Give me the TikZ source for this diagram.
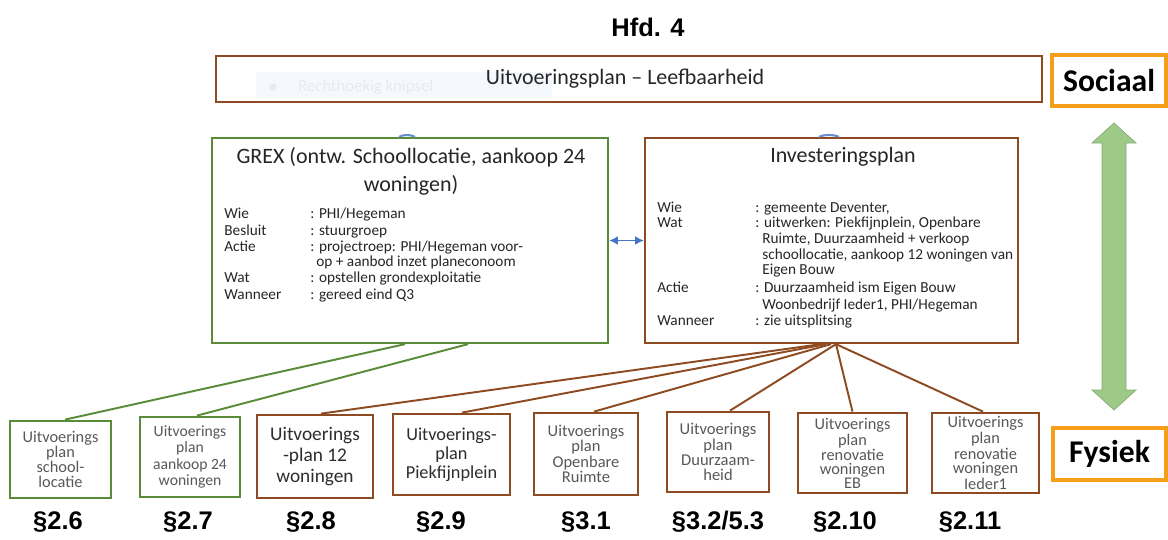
\documentclass[tikz,border=0pt]{standalone}
\usepackage{fontspec}
\newfontfamily\calfont{Carlito}
\newfontfamily\arialfont{Liberation Sans}
\usetikzlibrary{arrows.meta,calc}
\definecolor{grn}{RGB}{88,140,56}
\definecolor{brn}{RGB}{142,74,32}
\definecolor{org}{RGB}{245,158,28}
\definecolor{blu}{RGB}{68,114,196}
\definecolor{arrowgreen}{RGB}{158,202,136}
\definecolor{txtgray}{RGB}{88,88,88}
\definecolor{txtdark}{RGB}{45,45,45}
\definecolor{ghostbg}{RGB}{245,249,254}
\definecolor{ghosttx}{RGB}{230,235,241}
\begin{document}
\begin{tikzpicture}[x=0.02cm,y=-0.02cm,
  sec/.style={inner sep=0pt, font=\arialfont\bfseries\fontsize{14.5}{17}\selectfont},
  bigbox/.style={draw, line width=1.3pt, inner sep=0pt},
  smallbox/.style={draw, line width=1.6pt, inner sep=0pt, align=center, text=txtgray},
  tag/.style={draw=org, line width=1.8pt, inner sep=0pt, fill=white, font=\calfont\bfseries\fontsize{18}{20}\selectfont},
  tbl/.style={anchor=base west, inner sep=0pt, font=\calfont\fontsize{8.7}{9}\selectfont, text=black!85},
  ttl/.style={inner sep=0pt, align=center, font=\calfont\fontsize{12.5}{15.9}\selectfont, text=black!85},
  gline/.style={draw=grn, line width=1.1pt},
  bline/.style={draw=brn, line width=1.1pt}]
\useasboundingbox (0,0) rectangle (1168,539);
\fill[white] (0,0) rectangle (1168,539);

% heading
\node[sec] (hfd) at (648,27) {Hfd. 4};

% top box with faint ghost label
\fill[ghostbg] (256,72) rectangle (552,98);
\fill[ghosttx] (273,87) circle (3.5);
\node[anchor=west, inner sep=0pt, text=ghosttx, font=\calfont\fontsize{9.5}{11}\selectfont] (ghost) at (298,87) {Rechthoekig knipsel};
\node[draw=brn, line width=1.5pt, minimum width=16.52cm, minimum height=0.92cm, inner sep=0pt] (top) at (629,79) {};
\node[inner sep=0pt, font=\calfont\fontsize{12.5}{15}\selectfont, text=black!85] (toptxt) at (625,79) {Uitvoeringsplan – Leefbaarheid};

% side tags and arrow
\node[tag, minimum width=2.28cm, minimum height=1.02cm] (soc) at (1109,80.5) {Sociaal};
\node[tag, minimum width=2.26cm, minimum height=1.04cm] (fys) at (1109.5,454) {Fysiek};
\filldraw[fill=arrowgreen, draw=arrowgreen!85!black, line width=0.4pt]
  (1114,123) -- (1136,143) -- (1126,143) -- (1126,390) -- (1136,390) -- (1114,410)
  -- (1092,390) -- (1102,390) -- (1102,143) -- (1092,143) -- cycle;

% main boxes
\node[bigbox, draw=grn, minimum width=7.92cm, minimum height=4.1cm] (grex) at (410,240.5) {};
\node[bigbox, draw=brn, minimum width=7.46cm, minimum height=4.1cm] (inv) at (831.5,240.5) {};

% small blue bumps peeking above the box tops
\draw[blu!80, line width=1.2pt] ($(grex.north)+(-0.22cm,0)$) .. controls ($(grex.north)+(-0.14cm,0.05cm)$) and ($(grex.north)+(0.02cm,0.05cm)$) .. ($(grex.north)+(0.1cm,0)$);
\draw[blu!80, line width=1.2pt] ($(inv.north)+(-0.25cm,0)$) .. controls ($(inv.north)+(-0.15cm,0.05cm)$) and ($(inv.north)+(0.05cm,0.05cm)$) .. ($(inv.north)+(0.15cm,0)$);

% GREX content
\node[ttl] (grext) at (411,171) {GREX (ontw. Schoollocatie, aankoop 24\\woningen)};
\node[tbl] (gl1) at (224,218) {Wie};      \node[tbl] (gv1) at (310,218) {: PHI/Hegeman};
\node[tbl] (gl2) at (224,235) {Besluit};  \node[tbl] (gv2) at (310,235) {: stuurgroep};
\node[tbl] (gl3) at (224,251) {Actie};    \node[tbl] (gv3) at (310,251) {: projectroep: PHI/Hegeman voor-};
                                          \node[tbl] (gv4) at (316,266) {op + aanbod inzet planeconoom};
\node[tbl] (gl5) at (224,282) {Wat};      \node[tbl] (gv5) at (310,282) {: opstellen grondexploitatie};
\node[tbl] (gl6) at (224,299) {Wanneer};  \node[tbl] (gv6) at (310,299) {: gereed eind Q3};

% Investeringsplan content
\node[ttl] (invt) at (843,157) {Investeringsplan};
\node[tbl] (il1) at (657,212) {Wie};      \node[tbl] (iv1) at (755,212) {: gemeente Deventer,};
\node[tbl] (il2) at (657,227.5) {Wat};    \node[tbl] (iv2) at (755,227.5) {: uitwerken: Piekfijnplein, Openbare};
                                          \node[tbl] (iv3) at (762,243) {Ruimte, Duurzaamheid + verkoop};
                                          \node[tbl] (iv4) at (762,259) {schoollocatie, aankoop 12 woningen van};
                                          \node[tbl] (iv5) at (762,274.5) {Eigen Bouw};
\node[tbl] (il6) at (657,292) {Actie};    \node[tbl] (iv6) at (755,292) {: Duurzaamheid ism Eigen Bouw};
                                          \node[tbl] (iv7) at (762,309) {Woonbedrijf Ieder1, PHI/Hegeman};
\node[tbl] (il8) at (657,325) {Wanneer};  \node[tbl] (iv8) at (755,325) {: zie uitsplitsing};

% link between the two plans
\draw[blu, line width=1.1pt, {Latex[length=5pt,width=5pt]}-{Latex[length=5pt,width=5pt]}] (grex.east) -- (inv.east -| inv.west);

% bottom boxes
\node[smallbox, draw=grn, minimum width=2.02cm, minimum height=1.54cm, font=\calfont\fontsize{9.3}{8.6}\selectfont] (b1) at (60.5,459.5) {Uitvoerings\\plan\\school-\\locatie};
\node[smallbox, draw=grn, minimum width=2.0cm, minimum height=1.6cm, font=\calfont\fontsize{8.9}{9.3}\selectfont] (b2) at (190,457) {Uitvoerings\\plan\\aankoop 24\\woningen};
\node[smallbox, draw=brn, minimum width=2.32cm, minimum height=1.66cm, text=txtdark, font=\calfont\fontsize{11}{11.8}\selectfont] (b3) at (315,456.5) {Uitvoerings\\-plan 12\\woningen};
\node[smallbox, draw=brn, minimum width=2.34cm, minimum height=1.62cm, text=txtdark, font=\calfont\fontsize{10.4}{10.9}\selectfont] (b4) at (451.5,454.5) {Uitvoerings-\\plan\\Piekfijnplein};
\node[smallbox, draw=brn, minimum width=2.08cm, minimum height=1.64cm, font=\calfont\fontsize{9.4}{8.7}\selectfont] (b5) at (586,454) {Uitvoerings\\plan\\Openbare\\Ruimte};
\node[smallbox, draw=brn, minimum width=2.04cm, minimum height=1.6cm, font=\calfont\fontsize{9.4}{8.6}\selectfont] (b6) at (718,452) {Uitvoerings\\plan\\Duurzaam-\\heid};
\node[smallbox, draw=brn, minimum width=2.18cm, minimum height=1.6cm, font=\calfont\fontsize{9.3}{7.8}\selectfont] (b7) at (852.5,453) {Uitvoerings\\plan\\renovatie\\woningen\\EB};
\node[smallbox, draw=brn, minimum width=2.14cm, minimum height=1.6cm, font=\calfont\fontsize{9.3}{7.8}\selectfont] (b8) at (985.5,453) {Uitvoerings\\plan\\renovatie\\woningen\\Ieder1};

% connectors from GREX
\draw[gline] ([xshift=-0.1cm]grex.south) -- ([xshift=0.09cm]b1.north);
\draw[gline] ([xshift=1.16cm]grex.south) -- ([xshift=0.14cm]b2.north);

% connectors from Investeringsplan
\coordinate (hub) at ([xshift=0.09cm]inv.south);
\draw[bline] ([xshift=-0.3cm]hub) -- ([xshift=0.12cm]b3.north);
\draw[bline] ([xshift=-0.2cm]hub) -- ([xshift=0.21cm]b4.north);
\draw[bline] ([xshift=-0.1cm]hub) -- ([xshift=0.16cm]b5.north);
\draw[bline] (hub) -- ([xshift=0.24cm]b6.north);
\draw[bline] (hub) -- (b7.north);
\draw[bline] (hub) -- ([xshift=-0.05cm]b8.north);

% section labels
\node[sec] (s1) at (58,522) {§2.6};
\node[sec] (s2) at (188,522) {§2.7};
\node[sec] (s3) at (311,522) {§2.8};
\node[sec] (s4) at (441,522) {§2.9};
\node[sec] (s5) at (586,522) {§3.1};
\node[sec] (s6) at (718,522) {§3.2/5.3};
\node[sec] (s7) at (845,522) {§2.10};
\node[sec] (s8) at (970,522) {§2.11};
\end{tikzpicture}
\end{document}
